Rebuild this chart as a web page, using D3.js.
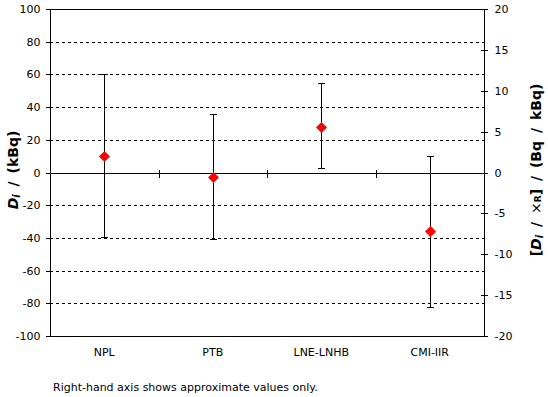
<!DOCTYPE html>
<html>
<head>
<meta charset="utf-8">
<title>Di chart</title>
<script src="https://cdn.jsdelivr.net/npm/d3@7"></script>
<style>
  body { margin: 0; background: #fff; }
  svg { font-family: "DejaVu Sans", Verdana, sans-serif; }
</style>
</head>
<body>
<svg width="548" height="397"></svg>
<script>
// lab results, D_i in kBq
var labs = ["NPL", "PTB", "LNE-LNHB", "CMI-IIR"];
var values = [10, -2.7, 28, -36];
var upper = [60, 35.5, 54.5, 9.8];
var lower = [-39.5, -40.5, 2.5, -82.5];
var leftTicks = [-100, -80, -60, -40, -20, 0, 20, 40, 60, 80, 100];
var rightTicks = [-20, -15, -10, -5, 0, 5, 10, 15, 20];

var svg = d3.select("svg");
var pLeft = 50, pRight = 484, pTop = 9, pBottom = 336;

var x = d3.scaleBand().domain(labs).range([pLeft, pRight]);
var y = d3.scaleLinear().domain([-100, 100]).range([pBottom, pTop]);
var y2 = d3.scaleLinear().domain([-20, 20]).range([pBottom, pTop]);

function cx(d) { return Math.round(x(d) + x.bandwidth() / 2) + 0.5; }
function py(v) { return Math.round(y(v)) + 0.5; }

var g = svg.append("g").attr("shape-rendering", "crispEdges");

// dashed grid
g.selectAll("line.grid")
  .data(leftTicks.filter(function(d) { return d != 0 && Math.abs(d) != 100; }))
  .enter().append("line")
  .attr("x1", pLeft).attr("x2", pRight)
  .attr("y1", py).attr("y2", py)
  .attr("stroke", "#000")
  .attr("stroke-dasharray", "3,3");

// top / bottom border
[100, -100].forEach(function(v) {
  g.append("line")
    .attr("x1", pLeft).attr("x2", pRight)
    .attr("y1", py(v)).attr("y2", py(v))
    .attr("stroke", "#000");
});

// left axis
var axL = d3.axisLeft(y).tickValues(leftTicks).tickSize(5).tickPadding(5)
  .tickFormat(function(d) { return String(d); });
var gl = svg.append("g").attr("transform", "translate(" + (pLeft + 0.5) + ",0)").call(axL);

// right axis (cross ticks)
var axR = d3.axisRight(y2).tickValues(rightTicks).tickSize(3).tickPadding(7)
  .tickFormat(function(d) { return String(d); });
var gr = svg.append("g").attr("transform", "translate(" + (pRight + 0.5) + ",0)").call(axR);
gr.selectAll(".tick line").attr("x1", -4);

[gl, gr].forEach(function(a) {
  a.attr("shape-rendering", "crispEdges");
  a.selectAll(".tick").attr("transform", function(d) {
    var s = a === gl ? y : y2;
    return "translate(0," + (Math.round(s(d)) + 0.5) + ")";
  });
  a.select(".domain").attr("d", "M0," + pTop + "V" + pBottom).attr("stroke", "#000");
  a.selectAll("text").attr("font-size", 11).attr("font-family", "DejaVu Sans, Verdana, sans-serif").attr("fill", "#000");
  a.selectAll("line").attr("stroke", "#000");
});

// category axis at zero
var y0 = py(0);
g.append("line").attr("x1", pLeft).attr("x2", pRight).attr("y1", y0).attr("y2", y0).attr("stroke", "#000");
g.selectAll("line.ctick")
  .data(labs.slice(1))
  .enter().append("line")
  .attr("x1", function(d) { return Math.round(x(d)) + 0.5; })
  .attr("x2", function(d) { return Math.round(x(d)) + 0.5; })
  .attr("y1", y0 - 4).attr("y2", y0 + 4)
  .attr("stroke", "#000");

// category labels below the plot
svg.selectAll("text.cat")
  .data(labs)
  .enter().append("text")
  .attr("x", function(d) { return x(d) + x.bandwidth() / 2; })
  .attr("y", 356)
  .attr("text-anchor", "middle")
  .attr("font-size", 11)
  .text(function(d) { return d; });

// error bars
var eb = g.selectAll("g.err").data(labs).enter().append("g");
eb.append("line")
  .attr("x1", cx).attr("x2", cx)
  .attr("y1", function(d, i) { return py(upper[i]); })
  .attr("y2", function(d, i) { return py(lower[i]); })
  .attr("stroke", "#000");
[upper, lower].forEach(function(arr) {
  eb.append("line")
    .attr("x1", function(d) { return cx(d) - 3.5; })
    .attr("x2", function(d) { return cx(d) + 3.5; })
    .attr("y1", function(d, i) { return py(arr[i]); })
    .attr("y2", function(d, i) { return py(arr[i]); })
    .attr("stroke", "#000");
});

// red diamonds
svg.selectAll("path.pt")
  .data(labs)
  .enter().append("path")
  .attr("transform", function(d, i) {
    return "translate(" + cx(d) + "," + py(values[i]) + ")";
  })
  .attr("d", "M0,-5.5L5.5,0L0,5.5L-5.5,0Z")
  .attr("fill", "#ff0000");

// axis titles
var tl = svg.append("text")
  .attr("transform", "translate(18,170) rotate(-90)")
  .attr("text-anchor", "middle")
  .attr("font-size", 14).attr("font-weight", "bold")
  .attr("word-spacing", 3);
tl.append("tspan").attr("font-style", "italic").text("D");
tl.append("tspan").attr("font-style", "italic").attr("font-size", 10).attr("dy", 2).text("i");
tl.append("tspan").attr("dy", -2).text(" / (kBq)");

var tr = svg.append("text")
  .attr("transform", "translate(541,170) rotate(-90)")
  .attr("text-anchor", "middle")
  .attr("font-size", 14).attr("font-weight", "bold")
  .attr("word-spacing", 3);
tr.append("tspan").text("[");
tr.append("tspan").attr("font-style", "italic").text("D");
tr.append("tspan").attr("font-style", "italic").attr("font-size", 10).attr("dy", 2).text("i");
tr.append("tspan").attr("dy", -2).text(" / ");
tr.append("tspan").attr("font-weight", "normal").text("\u00d7");
tr.append("tspan").attr("font-size", 9).text("R");
tr.append("tspan").text("] / (Bq / kBq)");

// footnote
svg.append("text")
  .attr("x", 53).attr("y", 391)
  .attr("font-size", 11)
  .text("Right-hand axis shows approximate values only.");
</script>
</body>
</html>
